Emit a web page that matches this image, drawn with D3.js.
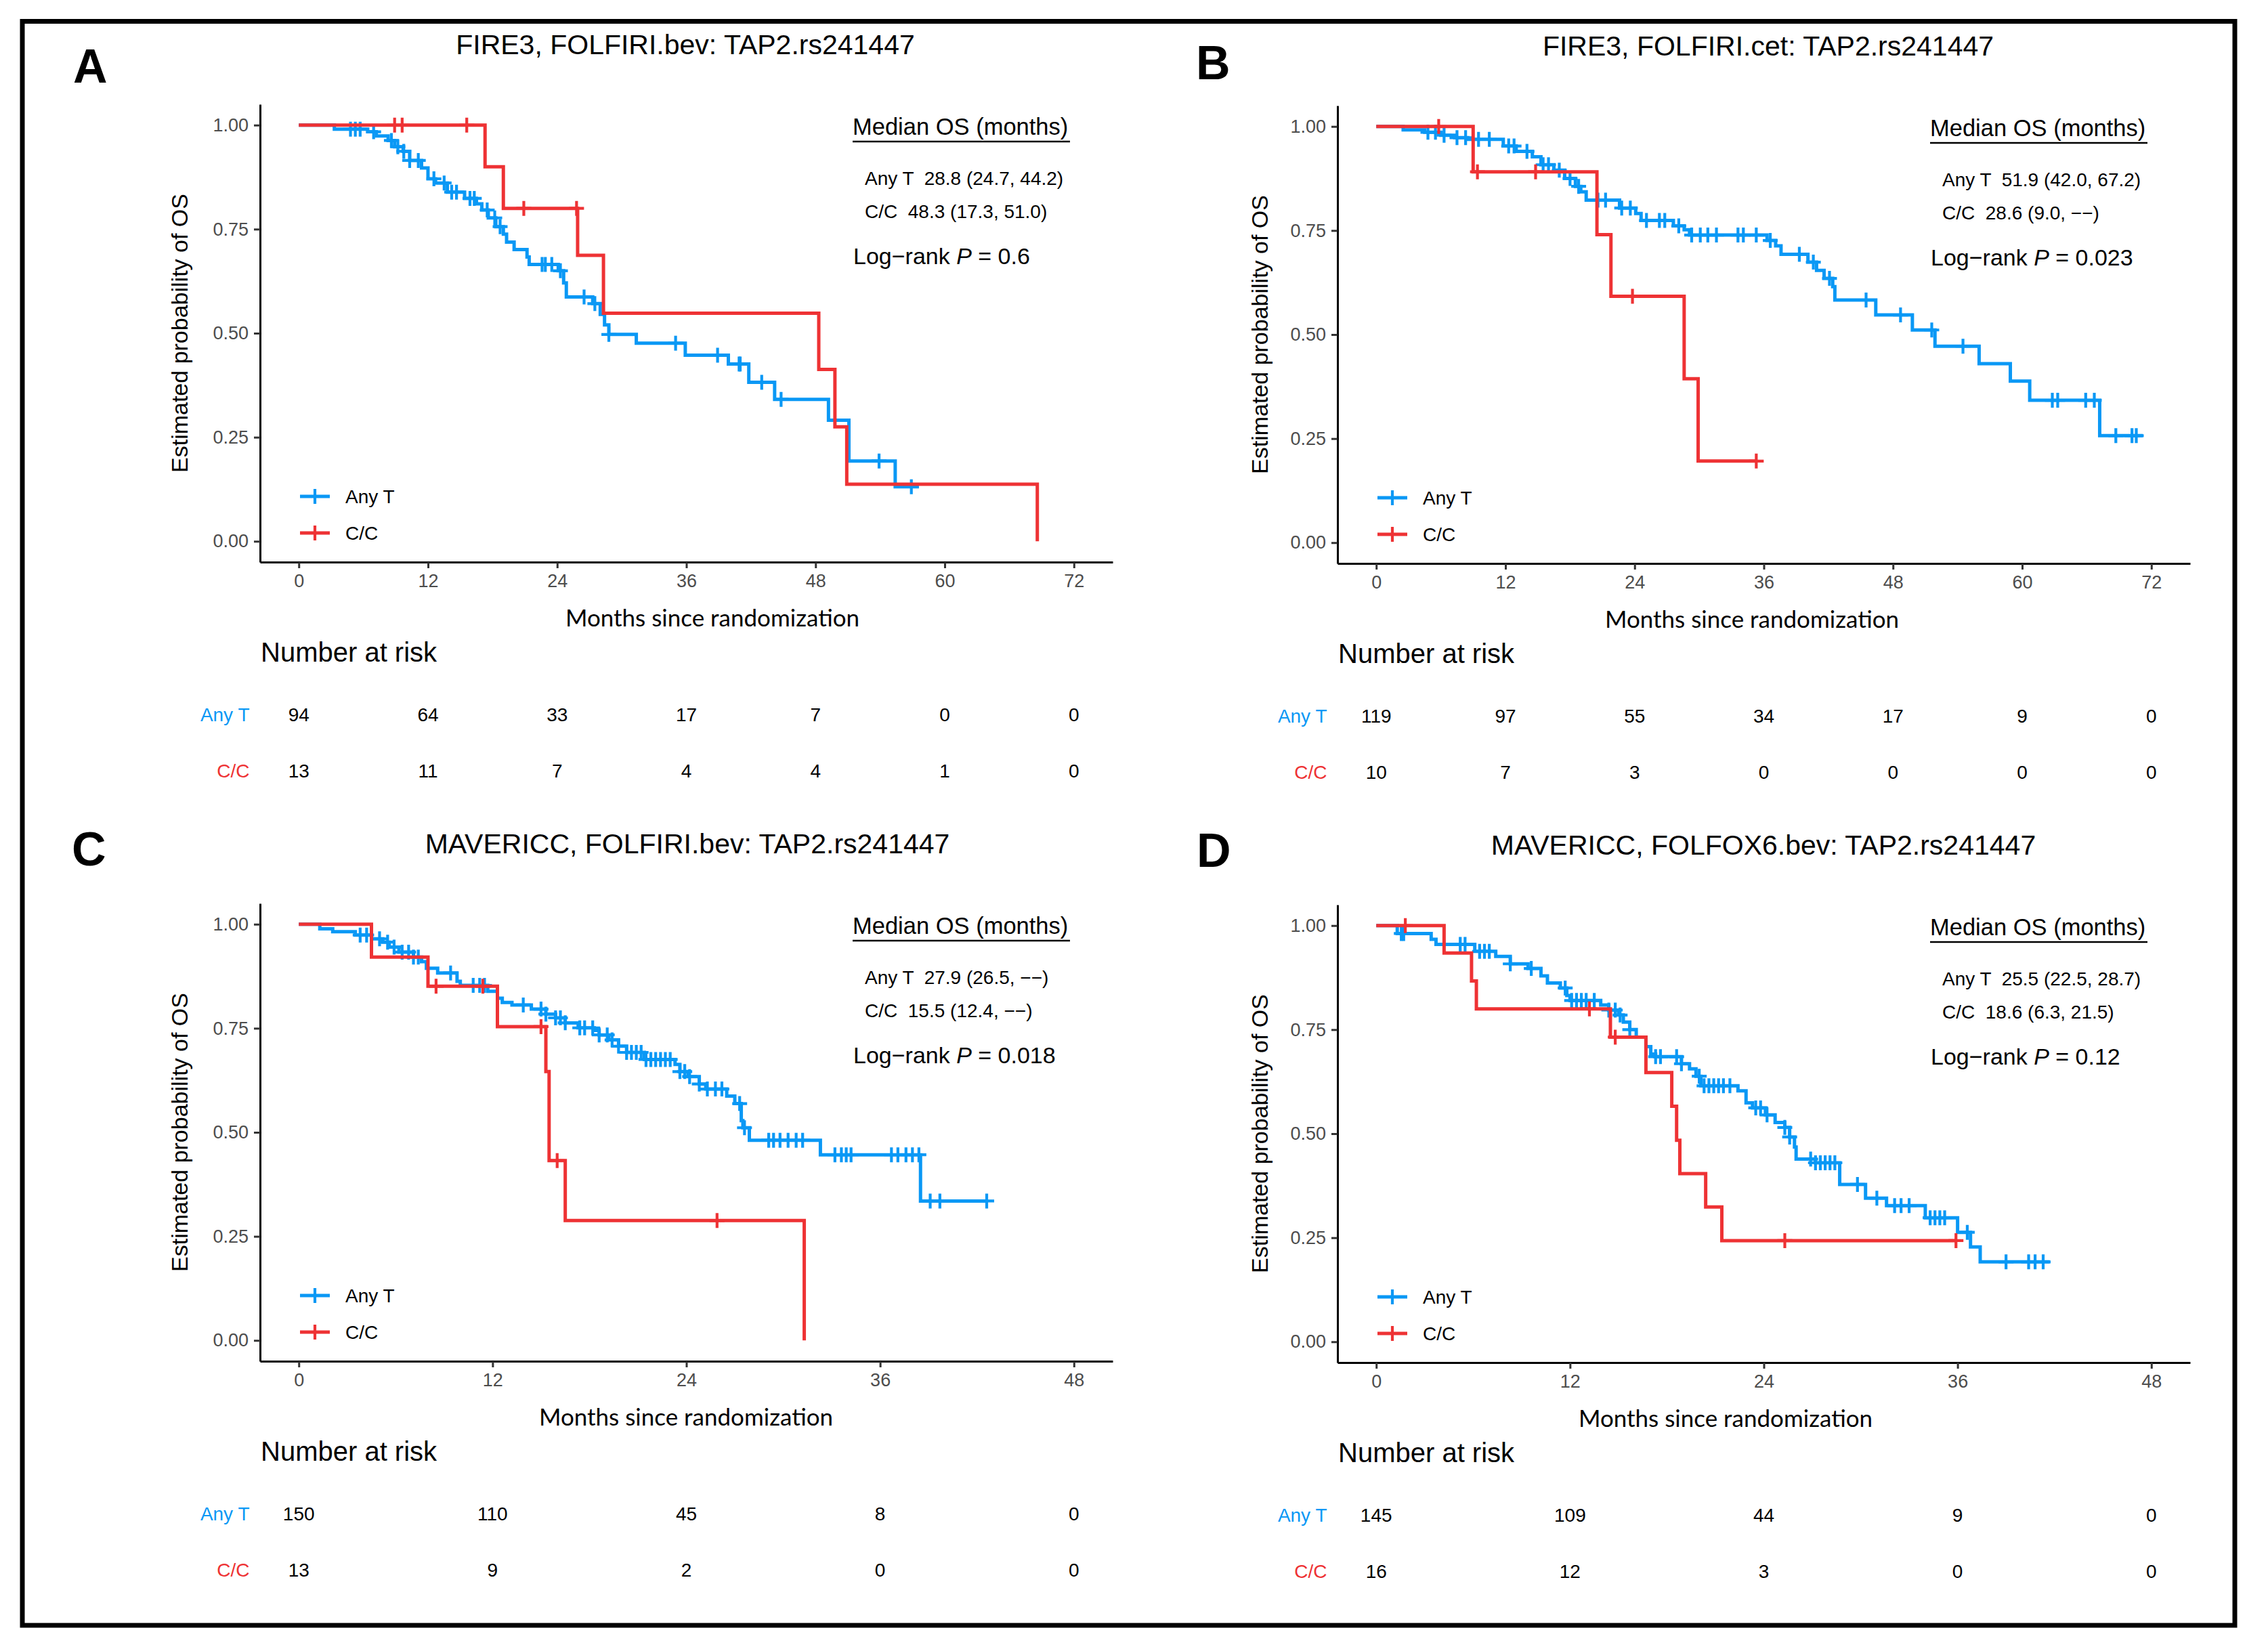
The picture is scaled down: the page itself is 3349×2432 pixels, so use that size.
<!DOCTYPE html>
<html>
<head>
<meta charset="utf-8">
<script src="https://cdn.jsdelivr.net/npm/d3@7"></script>
<style>
  body { margin: 0; background: #fff; }
</style>
</head>
<body>
<div id="viz"></div>
<script>
// ---- data ----
const panelIds    = ["A", "B", "C", "D"];
const panelTitles = [
  "FIRE3, FOLFIRI.bev: TAP2.rs241447",
  "FIRE3, FOLFIRI.cet: TAP2.rs241447",
  "MAVERICC, FOLFIRI.bev: TAP2.rs241447",
  "MAVERICC, FOLFOX6.bev: TAP2.rs241447"
];
const xMaxMonths  = [72, 72, 48, 48];
const yTicks      = [0, 0.25, 0.5, 0.75, 1];
const groupNames  = ["Any T", "C/C"];

const medianAnyT = ["28.8 (24.7, 44.2)", "51.9 (42.0, 67.2)", "27.9 (26.5, \u2212\u2212)", "25.5 (22.5, 28.7)"];
const medianCC   = ["48.3 (17.3, 51.0)", "28.6 (9.0, \u2212\u2212)", "15.5 (12.4, \u2212\u2212)", "18.6 (6.3, 21.5)"];
const logRankP   = ["0.6", "0.023", "0.018", "0.12"];

const riskAnyT = [[94, 64, 33, 17, 7, 0, 0], [119, 97, 55, 34, 17, 9, 0], [150, 110, 45, 8, 0], [145, 109, 44, 9, 0]];
const riskCC   = [[13, 11, 7, 4, 4, 1, 0], [10, 7, 3, 0, 0, 0, 0], [13, 9, 2, 0, 0], [16, 12, 3, 0, 0]];

// KM steps: [month, survival after the drop]
const anyT_A = [[0,1],[3.3,0.99],[6.4,0.984],[7.2,0.974],[8.3,0.963],[8.9,0.948],[9.7,0.937],[10.3,0.915],[11.4,0.897],
  [12.0,0.871],[12.7,0.861],[13.8,0.839],[15.4,0.824],[16.5,0.811],[17.0,0.796],[17.6,0.777],[18.3,0.756],[19.0,0.738],
  [19.3,0.719],[20.0,0.701],[21.2,0.683],[21.4,0.665],[24.1,0.65],[24.6,0.621],[24.85,0.587],[27.3,0.571],[28.0,0.545],
  [28.4,0.52],[28.8,0.497],[31.35,0.476],[35.9,0.447],[39.9,0.426],[41.8,0.382],[44.2,0.341],[49.2,0.291],[51.1,0.193],[55.4,0.131]];
const cc_A = [[0,1],[17.3,0.90],[19.0,0.80],[25.9,0.687],[28.3,0.548],[48.3,0.413],[49.8,0.275],[50.9,0.137],[68.6,0]];

const anyT_B = [[0,1],[2.5,0.992],[4.5,0.986],[6.0,0.979],[7.3,0.973],[8.5,0.969],[11.8,0.953],[13.0,0.940],[14.5,0.927],
  [15.3,0.908],[16.5,0.895],[17.5,0.875],[18.5,0.856],[19.0,0.843],[19.5,0.823],[22.6,0.804],[24.1,0.791],[24.6,0.774],
  [27.6,0.761],[28.6,0.752],[29.1,0.739],[36.3,0.726],[37.1,0.713],[37.6,0.693],[40.1,0.674],[40.9,0.654],[41.6,0.635],
  [42.4,0.615],[42.6,0.583],[46.4,0.547],[49.8,0.511],[51.9,0.472],[56.0,0.430],[58.9,0.388],[60.7,0.342],[67.2,0.257]];
const cc_B = [[0,1],[9.0,0.891],[20.5,0.740],[21.8,0.592],[28.6,0.394],[29.9,0.196]];

const anyT_C = [[0,1],[1.3,0.989],[2.1,0.982],[3.5,0.974],[4.5,0.965],[5.2,0.957],[5.6,0.945],[6.2,0.933],[7.1,0.921],
  [7.6,0.910],[7.9,0.894],[8.6,0.883],[9.8,0.863],[10.0,0.853],[11.7,0.839],[12.3,0.822],[12.6,0.812],[13.2,0.806],
  [14.4,0.796],[15.3,0.784],[15.9,0.775],[16.5,0.763],[17.3,0.751],[18.3,0.745],[18.6,0.734],[19.2,0.722],[19.8,0.707],
  [20.3,0.692],[21.4,0.675],[23.3,0.663],[23.6,0.646],[24.1,0.634],[24.8,0.616],[25.2,0.604],[26.5,0.587],[27.0,0.569],
  [27.4,0.528],[27.5,0.511],[27.9,0.481],[32.3,0.446],[38.5,0.335]];
const cc_C = [[0,1],[4.5,0.921],[8.0,0.851],[12.3,0.754],[15.3,0.646],[15.5,0.432],[16.5,0.288],[31.3,0]];

const anyT_D = [[0,1],[1.3,0.981],[3.4,0.967],[3.7,0.955],[6.1,0.938],[7.4,0.926],[8.3,0.908],[9.4,0.897],[10.2,0.879],
  [10.6,0.862],[11.4,0.850],[11.8,0.832],[12.0,0.820],[13.9,0.809],[14.4,0.797],[15.0,0.785],[15.3,0.768],[15.7,0.750],
  [16.1,0.732],[16.7,0.709],[17.0,0.691],[17.3,0.685],[18.9,0.668],[19.4,0.656],[19.8,0.638],[20.1,0.615],[22.4,0.603],
  [22.9,0.574],[23.3,0.562],[24.1,0.545],[24.7,0.527],[25.3,0.515],[25.6,0.492],[25.9,0.468],[26.0,0.439],[27.2,0.430],
  [28.7,0.378],[30.3,0.345],[31.6,0.327],[34.0,0.298],[36.0,0.263],[36.8,0.228],[37.4,0.192]];
const cc_D = [[0,1],[4.2,0.934],[5.9,0.867],[6.2,0.800],[14.5,0.732],[16.7,0.647],[18.3,0.566],[18.6,0.484],[18.8,0.404],
  [20.4,0.324],[21.4,0.243]];

// censoring times (months)
const anyTCens_A = [4.8,5.25,5.7,6.95,8.6,9.2,9.75,10.3,11.1,12.55,13.5,14.2,14.65,15.9,16.3,17.5,18.2,18.7,22.6,22.9,
  23.5,24.3,26.5,27.5,28.8,35.0,38.9,40.9,41.0,43.0,44.8,53.9,56.9];
const ccCens_A = [8.9, 9.6, 15.6, 20.9, 25.8];
const anyTCens_B = [4.8,5.5,6.3,7.5,8.3,9.5,10.5,12.3,12.8,14.0,15.5,16.0,17.0,18.0,18.8,20.6,21.3,22.8,23.6,25.1,26.3,
  26.8,28.1,29.3,30.1,30.8,31.6,33.6,34.1,35.3,36.6,39.3,40.6,42.1,45.5,48.7,51.6,54.5,62.8,63.3,65.9,66.7,68.7,70.2,70.6];
const ccCens_B = [5.8, 9.4, 14.8, 23.8, 35.3];
const anyTCens_C = [3.8,4.2,5.0,5.5,5.9,6.4,6.8,7.1,7.4,9.4,10.8,11.2,11.5,13.9,15.0,15.3,15.9,16.2,16.5,17.4,17.7,18.2,
  18.6,19.1,19.4,19.8,20.3,20.6,20.9,21.2,21.5,21.8,22.1,22.4,22.7,23.0,23.6,23.9,24.2,24.8,25.3,25.8,26.2,27.3,27.6,
  29.1,29.4,29.8,30.3,30.8,31.2,33.2,33.6,33.9,34.2,36.7,37.1,37.6,38.0,38.4,39.1,39.7,42.6];
const ccCens_C = [8.5, 11.4, 15.0, 16.0, 25.9];
const anyTCens_D = [1.55,1.7,5.2,5.5,6.4,6.7,7.0,8.3,9.6,11.7,12.1,12.4,12.7,13.0,13.5,14.4,14.8,15.1,15.7,17.3,17.6,
  18.6,18.9,20.0,20.3,20.6,20.9,21.2,21.5,21.9,23.5,23.8,24.2,25.3,25.6,26.9,27.2,27.5,27.8,28.1,28.4,29.8,31.0,32.1,
  32.5,33.0,34.3,34.6,34.9,35.2,36.6,39.0,40.4,40.8,41.3];
const ccCens_D = [1.8, 13.2, 14.8, 25.3, 35.9];

const endAnyT = [57.6, 71.2, 42.6, 41.7];
const endCC   = [68.6, 35.3, 31.3, 35.9];

// ---- layout ----
const W = 3349, H = 2432;
const BLUE = "#0A98F5", RED = "#EE3234";
const SANS  = "'Liberation Sans', Arial, Helvetica, sans-serif";
const HUMAN = "Lato, 'Open Sans', sans-serif";

const colDx      = [0, 1591, 0, 1591];
const rowDy      = [0, 2, 1180, 1182];
const letterPos  = [[108, 122], [1766, 117], [106, 1278], [1767, 1280]];
const titleCx    = [1012, 1020, 1015, 1013];
const xLabelCx   = [1052, 996, 1013, 957];
const yLabelX    = [277, 281, 277, 281];

const panels = panelIds.map((id, i) => ({
  id, i,
  title: panelTitles[i],
  xMax: xMaxMonths[i],
  dx: colDx[i], dy: rowDy[i],
  groups: [
    {name: groupNames[0], color: BLUE, steps: [anyT_A, anyT_B, anyT_C, anyT_D][i],
     cens: [anyTCens_A, anyTCens_B, anyTCens_C, anyTCens_D][i], end: endAnyT[i],
     median: medianAnyT[i], risk: riskAnyT[i]},
    {name: groupNames[1], color: RED, steps: [cc_A, cc_B, cc_C, cc_D][i],
     cens: [ccCens_A, ccCens_B, ccCens_C, ccCens_D][i], end: endCC[i],
     median: medianCC[i], risk: riskCC[i]}
  ]
}));

function survAt(steps, t) {
  let s = 1;
  for (const [ti, si] of steps) if (ti <= t) s = si;
  return s;
}

const svg = d3.select("#viz").append("svg")
  .attr("width", W).attr("height", H)
  .style("background", "#fff");

// outer frame
svg.append("rect")
  .attr("x", 33).attr("y", 31.5)
  .attr("width", 3267).attr("height", 2368.5)
  .attr("fill", "none").attr("stroke", "#000").attr("stroke-width", 7);

panels.forEach(p => {
  // panel letter
  svg.append("text")
    .attr("x", letterPos[p.i][0]).attr("y", letterPos[p.i][1])
    .style("font-family", SANS).style("font-weight", "bold").style("font-size", "70px")
    .text(p.id);

  const g = svg.append("g").attr("transform", `translate(${p.dx},${p.dy})`);

  const x = d3.scaleLinear().domain([-0.05 * p.xMax, 1.05 * p.xMax]).range([384, 1643]);
  const y = d3.scaleLinear().domain([-0.05, 1.05]).range([830, 154]);
  const xTicks = d3.range(0, p.xMax + 1, 12);

  // title
  g.append("text")
    .attr("x", titleCx[p.i]).attr("y", 80)
    .attr("text-anchor", "middle")
    .style("font-family", SANS).style("font-size", "41px")
    .text(p.title);

  // axes
  const xAxis = g.append("g").attr("transform", "translate(0,830)")
    .call(d3.axisBottom(x).tickValues(xTicks).tickSize(9).tickSizeOuter(0).tickPadding(9));
  const yAxis = g.append("g").attr("transform", "translate(384,0)")
    .call(d3.axisLeft(y).tickValues(yTicks).tickFormat(d3.format(".2f")).tickSize(9).tickSizeOuter(0).tickPadding(8));

  [xAxis, yAxis].forEach(ax => {
    ax.select(".domain").attr("stroke", "#000").attr("stroke-width", 3);
    ax.selectAll(".tick line").attr("stroke", "#333").attr("stroke-width", 3);
    ax.selectAll(".tick text")
      .attr("fill", "#4D4D4D")
      .style("font-family", SANS).style("font-size", "27px");
  });

  // axis titles
  g.append("text")
    .attr("transform", `translate(${yLabelX[p.i]},492) rotate(-90)`)
    .attr("text-anchor", "middle")
    .style("font-family", SANS).style("font-size", "34px")
    .text("Estimated probability of OS");

  g.append("text")
    .attr("x", xLabelCx[p.i]).attr("y", 925)
    .attr("text-anchor", "middle")
    .style("font-family", HUMAN).style("font-size", "35px")
    .text("Months since randomization");

  // KM curves
  const line = d3.line()
    .x(d => x(d[0])).y(d => y(d[1]))
    .curve(d3.curveStepAfter);

  p.groups.forEach(gr => {
    const pts = gr.steps.concat([[gr.end, gr.steps[gr.steps.length - 1][1]]]);
    const cg = g.append("g");
    cg.append("path")
      .attr("d", line(pts))
      .attr("fill", "none")
      .attr("stroke", gr.color)
      .attr("stroke-width", 5);

    cg.selectAll("path.cens")
      .data(gr.cens)
      .join("path")
      .attr("class", "cens")
      .attr("transform", t => `translate(${x(t)},${y(survAt(gr.steps, t))})`)
      .attr("d", "M-11,0H11M0,-11V11")
      .attr("stroke", gr.color)
      .attr("stroke-width", 4.2)
      .attr("fill", "none");
  });

  // legend
  p.groups.forEach((gr, k) => {
    const ly = 733 + k * 54;
    g.append("line")
      .attr("x1", 443).attr("x2", 487).attr("y1", ly).attr("y2", ly)
      .attr("stroke", gr.color).attr("stroke-width", 5);
    g.append("line")
      .attr("x1", 465).attr("x2", 465).attr("y1", ly - 11).attr("y2", ly + 11)
      .attr("stroke", gr.color).attr("stroke-width", 4.2);
    g.append("text")
      .attr("x", 510).attr("y", ly + 10)
      .style("font-family", SANS).style("font-size", "28px")
      .text(gr.name);
  });

  // median OS block
  g.append("text")
    .attr("x", 1259).attr("y", 199)
    .style("font-family", SANS).style("font-size", "34.5px")
    .text("Median OS (months)");
  g.append("line")
    .attr("x1", 1259).attr("x2", 1580).attr("y1", 209).attr("y2", 209)
    .attr("stroke", "#000").attr("stroke-width", 2.5);

  p.groups.forEach((gr, k) => {
    g.append("text")
      .attr("x", 1277).attr("y", 273 + k * 49)
      .style("font-family", SANS).style("font-size", "28px")
      .style("white-space", "pre")
      .text(gr.name + "  " + gr.median);
  });

  const lr = g.append("text")
    .attr("x", 1260).attr("y", 390)
    .style("font-family", SANS).style("font-size", "34px")
    .style("white-space", "pre");
  lr.append("tspan").text("Log\u2212rank ");
  lr.append("tspan").style("font-style", "italic").text("P");
  lr.append("tspan").text(" = " + logRankP[p.i]);

  // number at risk table
  g.append("text")
    .attr("x", 385).attr("y", 977)
    .style("font-family", SANS).style("font-size", "40px")
    .text("Number at risk");

  p.groups.forEach((gr, k) => {
    const ry = 1065 + k * 83;
    g.append("text")
      .attr("x", 368.5).attr("y", ry)
      .attr("text-anchor", "end")
      .attr("fill", gr.color)
      .style("font-family", SANS).style("font-size", "28px")
      .text(gr.name);
    g.append("g").selectAll("text")
      .data(gr.risk)
      .join("text")
      .attr("x", (d, j) => x(xTicks[j]))
      .attr("y", ry)
      .attr("text-anchor", "middle")
      .style("font-family", SANS).style("font-size", "28px")
      .text(d => d);
  });
});
</script>
</body>
</html>
